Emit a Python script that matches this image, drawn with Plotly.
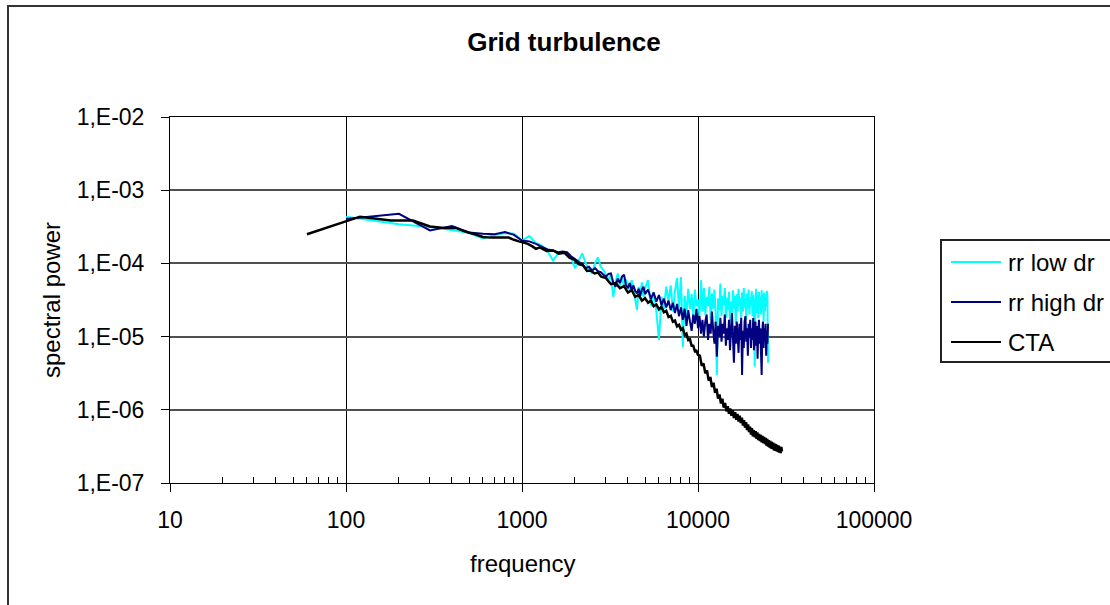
import plotly.graph_objects as go

# ---------------- data ----------------
RR_FREQ = [
    100, 200, 300, 400, 500, 600, 700, 800, 900, 1000,
    1100, 1200, 1300, 1400, 1500, 1600, 1700, 1800, 1900, 2000,
    2100, 2200, 2300, 2400, 2500, 2600, 2700, 2800, 2900, 3000,
    3100, 3200, 3300, 3400, 3500, 3600, 3700, 3800, 3900, 4000,
    4100, 4200, 4300, 4400, 4500, 4600, 4700, 4800, 4900, 5000,
    5200, 5400, 5600, 5800, 6000, 6200, 6400, 6600, 6800, 7000,
    7200, 7400, 7600, 7800, 8000, 8200, 8400, 8600, 8800, 9000,
    9200, 9400, 9600, 9800, 10000, 10200, 10400, 10600, 10800, 11000,
    11200, 11400, 11600, 11800, 12000, 12200, 12400, 12600, 12800, 13000,
    13200, 13400, 13600, 13800, 14000, 14200, 14400, 14600, 14800, 15000,
    15200, 15400, 15600, 15800, 16000, 16200, 16400, 16600, 16800, 17000,
    17200, 17400, 17600, 17800, 18000, 18200, 18400, 18600, 18800, 19000,
    19200, 19400, 19600, 19800, 20000, 20200, 20400, 20600, 20800, 21000,
    21200, 21400, 21600, 21800, 22000, 22200, 22400, 22600, 22800, 23000,
    23200, 23400, 23600, 23800, 24000, 24200, 24400, 24600, 24800, 25000,
]

RR_LOW_DR = [
    4.35e-4, 3.42e-4, 3.15e-4, 2.85e-4, 2.6e-4, 2.2e-4, 2.45e-4, 2.6e-4, 2.55e-4, 2.05e-4,
    2.37e-4, 1.9e-4, 1.75e-4, 1.45e-4, 1.1e-4, 1.35e-4, 1.44e-4, 1.38e-4, 1.2e-4, 8.6e-5,
    1.1e-4, 1.37e-4, 1.0e-4, 8.5e-5, 7.3e-5, 1.0e-4, 1.21e-4, 9.0e-5, 8.1e-5, 7.0e-5,
    6.0e-5, 7.0e-5, 3.5e-5, 5.5e-5, 7.3e-5, 5.0e-5, 6.5e-5, 4.8e-5, 6.0e-5, 5.2e-5,
    4.2e-5, 5.9e-5, 4.5e-5, 3.2e-5, 2.3e-5, 4.8e-5, 3.8e-5, 5.5e-5, 3.5e-5, 4.5e-5,
    5.9e-5, 2.6e-5, 4.0e-5, 2.2e-5, 9.0e-6, 3.5e-5, 2.4e-5, 4.8e-5, 3.0e-5, 5.0e-5,
    2.2e-5, 4.2e-5, 6.3e-5, 2.5e-5, 6.5e-5, 7.2e-6, 3.6e-5, 2.0e-5, 4.5e-5, 2.4e-5,
    3.8e-5, 1.8e-5, 4.4e-5, 2.6e-5, 3.2e-5, 1.9e-5, 5.9e-5, 2.2e-5, 4.6e-5, 2.0e-5,
    3.5e-5, 2.6e-5, 4.8e-5, 1.7e-5, 3.9e-5, 2.4e-5, 4.4e-5, 2.0e-5, 3.0e-6, 3.3e-5,
    2.3e-5, 5.3e-5, 1.9e-5, 3.6e-5, 2.7e-5, 4.6e-5, 1.8e-5, 3.4e-5, 2.3e-5, 4.1e-5,
    1.6e-5, 3.0e-5, 2.1e-5, 4.3e-5, 2.4e-5, 3.6e-5, 1.5e-5, 3.8e-5, 2.2e-5, 4.5e-5,
    2.6e-5, 3.4e-5, 1.8e-5, 4.0e-5, 2.2e-5, 4.6e-5, 2.5e-5, 3.3e-5, 1.7e-5, 3.9e-5,
    2.4e-5, 4.4e-5, 2.0e-5, 3.5e-5, 2.6e-5, 4.2e-5, 1.9e-5, 3.7e-5, 2.3e-5, 3.9e-6,
    3.1e-5, 4.5e-5, 2.1e-5, 3.6e-5, 1.8e-5, 4.1e-5, 2.5e-5, 3.5e-5, 2.0e-5, 4.3e-5,
    2.4e-5, 3.8e-5, 1.6e-5, 4.0e-5, 2.2e-5, 3.4e-5, 2.6e-5, 4.2e-5, 3.6e-5, 4.4e-6,
]

RR_HIGH_DR = [
    4.05e-4, 4.75e-4, 2.82e-4, 3.25e-4, 2.65e-4, 2.55e-4, 2.5e-4, 2.68e-4, 2.45e-4, 2.05e-4,
    2.0e-4, 1.85e-4, 1.68e-4, 1.55e-4, 1.5e-4, 1.42e-4, 1.45e-4, 1.42e-4, 1.25e-4, 1.15e-4,
    1.05e-4, 9.8e-5, 8.6e-5, 9.0e-5, 8.0e-5, 8.6e-5, 7.8e-5, 7.6e-5, 7.0e-5, 6.6e-5,
    7.2e-5, 7.3e-5, 5.5e-5, 4.8e-5, 6.2e-5, 5.4e-5, 6.6e-5, 7.0e-5, 5.0e-5, 4.6e-5,
    5.4e-5, 4.3e-5, 5.0e-5, 4.2e-5, 3.9e-5, 4.5e-5, 3.6e-5, 4.4e-5, 4.8e-5, 3.8e-5,
    4.4e-5, 3.3e-5, 4.0e-5, 3.0e-5, 3.7e-5, 2.7e-5, 3.3e-5, 2.5e-5, 3.1e-5, 2.3e-5,
    2.9e-5, 2.1e-5, 2.8e-5, 1.9e-5, 2.5e-5, 1.7e-5, 2.4e-5, 1.4e-5, 2.3e-5, 1.6e-5,
    1.2e-5, 2.0e-5, 1.5e-5, 2.4e-5, 1.3e-5, 1.9e-5, 1.1e-5, 1.7e-5, 1.0e-5, 1.6e-5,
    2.0e-5, 9.0e-6, 1.5e-5, 1.1e-5, 2.2e-5, 1.2e-5, 8.0e-6, 1.6e-5, 5.3e-6, 1.4e-5,
    1.0e-5, 1.8e-5, 8.5e-6, 1.5e-5, 1.1e-5, 2.0e-5, 7.5e-6, 1.3e-5, 9.0e-6, 1.7e-5,
    6.5e-6, 1.2e-5, 2.1e-5, 9.5e-6, 4.4e-6, 1.4e-5, 8.0e-6, 1.6e-5, 1.0e-5, 6.0e-6,
    1.5e-5, 9.0e-6, 1.8e-5, 3.0e-6, 1.2e-5, 7.0e-6, 1.6e-5, 1.9e-5, 8.5e-6, 1.3e-5,
    5.5e-6, 1.5e-5, 1.0e-5, 1.7e-5, 7.0e-6, 1.3e-5, 9.0e-6, 1.8e-5, 6.5e-6, 1.2e-5,
    1.6e-5, 7.5e-6, 1.4e-5, 5.0e-6, 1.1e-5, 1.7e-5, 8.0e-6, 1.3e-5, 6.0e-6, 3.0e-6,
    1.2e-5, 1.6e-5, 7.0e-6, 1.3e-5, 9.0e-6, 1.5e-5, 5.5e-6, 1.2e-5, 8.0e-6, 1.5e-5,
]

CTA_FREQ = [
    60, 120, 180, 240, 300, 360, 420, 480, 540, 600,
    660, 720, 780, 840, 900, 960, 1020, 1080, 1140, 1200,
    1260, 1380, 1500, 1620, 1740, 1860, 1980, 2100, 2220, 2340,
    2460, 2580, 2700, 2820, 2940,
    3000, 3200, 3400, 3600, 3800, 4000, 4200, 4400, 4600, 4800,
    5000, 5200, 5400, 5600, 5800, 6000, 6200, 6400, 6600, 6800,
    7000, 7200, 7400, 7600, 7800, 8000, 8200, 8400, 8600, 8800,
    9000, 9200, 9400, 9600, 9800,
    10000, 10250, 10500, 10750, 11000, 11250, 11500, 11750, 12000, 12250,
    12500, 12750, 13000, 13250, 13500, 13750, 14000, 14250, 14500, 14750,
    15000, 15250, 15500, 15750, 16000, 16250, 16500, 16750, 17000, 17250,
    17500, 17750, 18000, 18250, 18500, 18750, 19000, 19250, 19500, 19750,
    20000, 20250, 20500, 20750, 21000, 21250, 21500, 21750, 22000, 22250,
    22500, 22750, 23000, 23250, 23500, 23750, 24000, 24250, 24500, 24750,
    25000, 25250, 25500, 25750, 26000, 26250, 26500, 26750, 27000, 27250,
    27500, 27750, 28000, 28250, 28500, 28750, 29000, 29250, 29500, 29750,
    30000,
]

CTA = [
    2.5e-4, 4.35e-4, 3.85e-4, 3.85e-4, 3.2e-4, 3.05e-4, 3.05e-4, 2.7e-4, 2.5e-4, 2.3e-4,
    2.25e-4, 2.25e-4, 2.25e-4, 2.25e-4, 2.1e-4, 2.0e-4, 1.93e-4, 1.85e-4, 1.72e-4, 1.58e-4,
    1.66e-4, 1.48e-4, 1.5e-4, 1.36e-4, 1.4e-4, 1.2e-4, 1.13e-4, 9.8e-5, 9.4e-5, 7.9e-5,
    8.0e-5, 7.3e-5, 7.5e-5, 6.6e-5, 6.4e-5,
    6.3e-5, 5.2e-5, 5.4e-5, 4.6e-5, 4.9e-5, 4.0e-5, 4.3e-5, 3.5e-5, 3.7e-5, 3.1e-5,
    3.35e-5, 2.9e-5, 3.1e-5, 2.6e-5, 2.75e-5, 2.35e-5, 2.55e-5, 2.15e-5, 2.25e-5, 1.85e-5,
    1.92e-5, 1.6e-5, 1.66e-5, 1.38e-5, 1.45e-5, 1.24e-5, 1.3e-5, 1.05e-5, 1.1e-5, 9.0e-6,
    9.2e-6, 7.5e-6, 7.5e-6, 6.3e-6, 6.4e-6,
    5.6e-6, 5.5e-6, 4.0e-6, 4.3e-6, 3.15e-6, 3.45e-6, 2.5e-6, 2.8e-6, 2.05e-6, 2.35e-6,
    1.7e-6, 1.95e-6, 1.42e-6, 1.62e-6, 1.22e-6, 1.42e-6, 1.07e-6, 1.24e-6, 9.5e-7, 1.12e-6,
    8.8e-7, 1.04e-6, 8.3e-7, 9.9e-7, 7.7e-7, 9.3e-7, 7.3e-7, 8.8e-7, 6.9e-7, 8.3e-7,
    6.6e-7, 7.8e-7, 6.1e-7, 7.2e-7, 5.7e-7, 6.8e-7, 5.3e-7, 6.3e-7, 4.95e-7, 5.9e-7,
    4.6e-7, 5.6e-7, 4.35e-7, 5.25e-7, 4.2e-7, 5.1e-7, 4.0e-7, 4.9e-7, 3.85e-7, 4.7e-7,
    3.75e-7, 4.55e-7, 3.6e-7, 4.4e-7, 3.5e-7, 4.25e-7, 3.4e-7, 4.15e-7, 3.25e-7, 4.0e-7,
    3.15e-7, 3.85e-7, 3.05e-7, 3.75e-7, 2.95e-7, 3.65e-7, 2.9e-7, 3.55e-7, 2.8e-7, 3.45e-7,
    2.75e-7, 3.4e-7, 2.7e-7, 3.3e-7, 2.65e-7, 3.25e-7, 2.6e-7, 3.15e-7, 2.55e-7, 3.1e-7,
    2.7e-7,
]

SERIES_NAMES = ["rr low dr", "rr high dr", "CTA"]
SERIES_COLORS = ["#00FFFF", "#000080", "#000000"]
SERIES_WIDTHS = [2, 2, 2.5]

X_TICKS = [10, 100, 1000, 10000, 100000]
X_TICK_TEXT = ["10", "100", "1000", "10000", "100000"]
Y_TICKS = [1e-7, 1e-6, 1e-5, 1e-4, 1e-3, 1e-2]
Y_TICK_TEXT = ["1,E-07", "1,E-06", "1,E-05", "1,E-04", "1,E-03", "1,E-02"]
X_MINOR = [m * 10 ** e for e in range(1, 5) for m in range(2, 10)]

# ---------------- layout geometry ----------------
W, H = 1110, 605
L, R, T, B = 170, 236, 117, 122
FONT = "Liberation Sans, Arial, sans-serif"


def px(x):
    return (x - L) / (W - L - R)


def py(y):
    return (H - B - y) / (H - T - B)


fig = go.Figure()
for xs, ys, name, color, lw in [
    (RR_FREQ, RR_LOW_DR, SERIES_NAMES[0], SERIES_COLORS[0], SERIES_WIDTHS[0]),
    (RR_FREQ, RR_HIGH_DR, SERIES_NAMES[1], SERIES_COLORS[1], SERIES_WIDTHS[1]),
    (CTA_FREQ, CTA, SERIES_NAMES[2], SERIES_COLORS[2], SERIES_WIDTHS[2]),
]:
    fig.add_trace(go.Scatter(
        x=xs, y=ys, name=name, mode="lines",
        line=dict(color=color, width=lw, simplify=False),
        showlegend=False,
    ))

shapes = [
    # outer chart frame
    dict(type="rect", xref="paper", yref="paper",
         x0=px(8), x1=px(1250), y0=py(760), y1=py(6),
         line=dict(color="#333333", width=2), fillcolor="rgba(0,0,0,0)"),
    # legend frame
    dict(type="rect", xref="paper", yref="paper",
         x0=px(941), x1=px(1250), y0=py(362), y1=py(240),
         line=dict(color="#222222", width=2), fillcolor="rgba(0,0,0,0)"),
]
annotations = []
legend_y = [262, 302, 342]
for name, color, ly in zip(SERIES_NAMES, SERIES_COLORS, legend_y):
    shapes.append(dict(type="line", xref="paper", yref="paper",
                       x0=px(951), x1=px(1001), y0=py(ly), y1=py(ly),
                       line=dict(color=color, width=2)))
    annotations.append(dict(text=name, xref="paper", yref="paper",
                            x=px(1006), y=py(ly), xanchor="left", yanchor="middle",
                            showarrow=False, font=dict(family=FONT, size=24, color="black")))

annotations.append(dict(text="frequency", xref="paper", yref="paper",
                        x=px(522), y=py(563), xanchor="center", yanchor="middle",
                        showarrow=False, font=dict(family=FONT, size=24, color="black")))
annotations.append(dict(text="spectral power", xref="paper", yref="paper",
                        x=px(51), y=py(300), xanchor="center", yanchor="middle",
                        textangle=-90, showarrow=False,
                        font=dict(family=FONT, size=24, color="black")))

fig.update_layout(
    width=W, height=H,
    margin=dict(l=L, r=R, t=T, b=B, pad=0),
    paper_bgcolor="white", plot_bgcolor="white",
    font=dict(family=FONT, size=23, color="black"),
    title=dict(text="<b>Grid turbulence</b>", xref="paper", x=px(564), xanchor="center",
               yref="container", y=1 - 42 / H, yanchor="middle",
               font=dict(family=FONT, size=26, color="black")),
    showlegend=False,
    shapes=shapes,
    annotations=annotations,
)

fig.update_xaxes(
    type="log", range=[1, 5], autorange=False,
    tickmode="array", tickvals=X_TICKS, ticktext=X_TICK_TEXT,
    ticks="outside", ticklen=8, tickwidth=1, tickcolor="black",
    ticklabelstandoff=8,
    showgrid=True, gridcolor="black", gridwidth=1,
    showline=True, linecolor="black", linewidth=1, mirror=True,
    zeroline=False,
    minor=dict(tickmode="array", tickvals=X_MINOR, ticks="inside", ticklen=6,
               tickwidth=1, tickcolor="black", showgrid=False),
    tickfont=dict(family=FONT, size=23, color="black"),
)
fig.update_yaxes(
    type="log", range=[-7, -2], autorange=False,
    tickmode="array", tickvals=Y_TICKS, ticktext=Y_TICK_TEXT,
    ticks="outside", ticklen=8, tickwidth=1, tickcolor="black",
    ticklabelstandoff=12,
    showgrid=True, gridcolor="#505050", gridwidth=1.5,
    showline=True, linecolor="black", linewidth=1, mirror=True,
    zeroline=False,
    tickfont=dict(family=FONT, size=23, color="black"),
)

fig.write_html(
    "out.html",
    config={"displayModeBar": False},
    post_script="document.body.style.margin='0px';document.body.style.overflow='hidden';",
)
